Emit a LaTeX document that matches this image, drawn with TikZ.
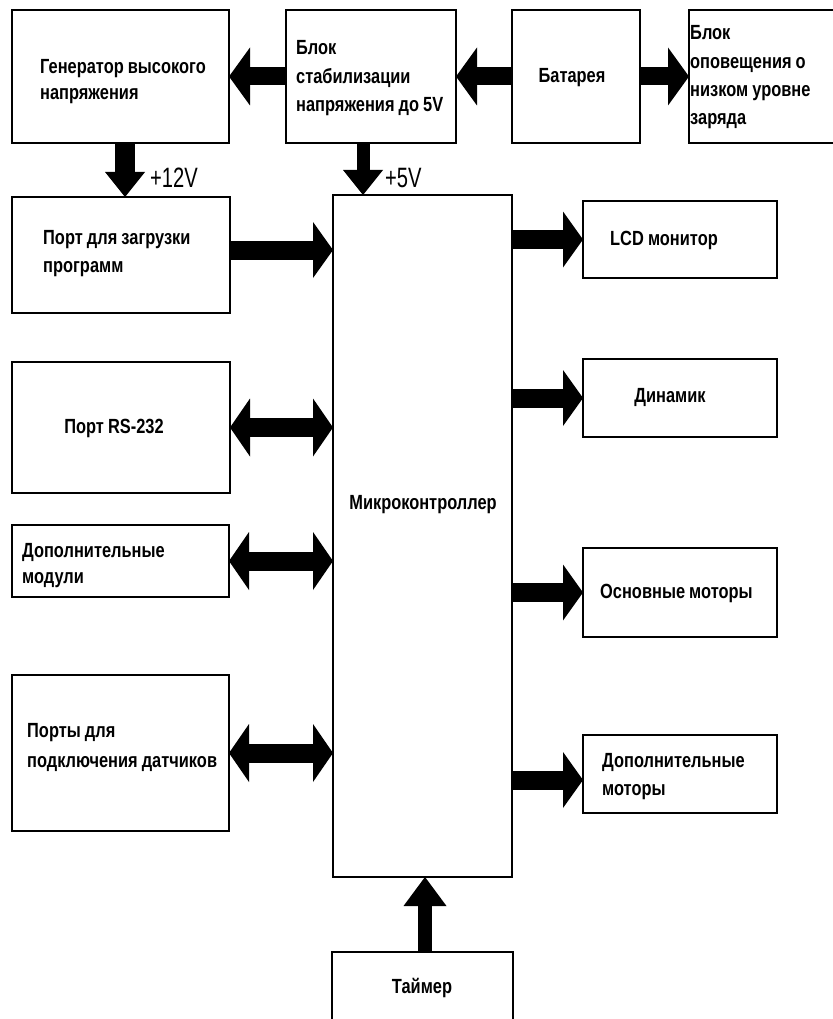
\documentclass[tikz,border=0pt]{standalone}
\usepackage{fontspec}
\setmainfont{Liberation Sans}[FakeStretch=0.8,WordSpace={0.9,0,0}]
\newfontfamily\voltfont{Liberation Sans}[FakeStretch=0.72]
\usetikzlibrary{arrows.meta}
\tikzset{
  box/.style={draw, line width=1.3pt, rectangle, inner sep=0pt, outer sep=0pt},
  txt/.style={font=\bfseries\fontsize{20.5}{28}\selectfont, inner sep=0pt, anchor=base west, align=flush left, text width=215pt},
  ctxt/.style={font=\bfseries\fontsize{20.5}{28}\selectfont, inner sep=0pt, anchor=base},
  volt/.style={font=\voltfont\fontsize{28}{30}\selectfont, inner sep=0pt, anchor=west},
  harrow/.style={line width=18pt, -{Triangle[length=21pt,width=58pt,line width=0pt]}},
  dharrow/.style={line width=19pt, {Triangle[length=20pt,width=58pt,line width=0pt]}-{Triangle[length=20pt,width=58pt,line width=0pt]}},
  varrow/.style={line width=#1, -{Triangle[length=25pt,width=40pt,line width=0pt]}},
  rarrow/.style={line width=19pt, -{Triangle[length=20pt,width=56pt,line width=0pt]}},
}
\begin{document}
\begin{tikzpicture}[x=1pt,y=-1pt]
\useasboundingbox (0,0) rectangle (832,1019);
% boxes
\node[box, minimum width=217pt, minimum height=133pt] (gen) at (120.5,76.5) {};
\node[box, minimum width=170pt, minimum height=133pt] (stab) at (371,76.5) {};
\node[box, minimum width=128pt, minimum height=133pt] (bat) at (576,76.5) {};
\node[box, minimum width=156pt, minimum height=133pt] (alarm) at (767,76.5) {};
\node[box, minimum width=218pt, minimum height=116pt] (port) at (121,255) {};
\node[box, minimum width=218pt, minimum height=131pt] (rs) at (121,427.5) {};
\node[box, minimum width=217pt, minimum height=72pt] (mod) at (120.5,561) {};
\node[box, minimum width=217pt, minimum height=156pt] (sens) at (120.5,753) {};
\node[box, minimum width=179pt, minimum height=682pt] (mc) at (422.5,536) {};
\node[box, minimum width=194pt, minimum height=77pt] (lcd) at (680,239.5) {};
\node[box, minimum width=194pt, minimum height=78pt] (din) at (680,398) {};
\node[box, minimum width=194pt, minimum height=89pt] (mot) at (680,592.5) {};
\node[box, minimum width=194pt, minimum height=78pt] (dmot) at (680,774) {};
\node[box, minimum width=181pt, minimum height=78pt] (timer) at (422.5,991) {};
% texts
\node[txt, font=\bfseries\fontsize{20.5}{26}\selectfont] (tgen) at (40,74) {Генератор высокого\\напряжения};
\node[txt, font=\bfseries\fontsize{20.5}{28.5}\selectfont] (tstab) at (296,55) {Блок\\стабилизации\\напряжения до 5V};
\node[ctxt] (tbat) at (572,83) {Батарея};
\node[txt, font=\bfseries\fontsize{20.5}{28.3}\selectfont] (talarm) at (690,40) {Блок\\оповещения о\\низком уровне\\заряда};
\node[txt] (tport) at (43,244) {Порт для загрузки\\программ};
\node[ctxt] (trs) at (114,433) {Порт RS-232};
\node[txt, font=\bfseries\fontsize{20.5}{26}\selectfont] (tmod) at (22,557) {Дополнительные\\модули};
\node[txt, font=\bfseries\fontsize{20.5}{30}\selectfont] (tsens) at (27,737) {Порты для\\подключения датчиков};
\node[ctxt] (tmc) at (423,509) {Микроконтроллер};
\node[txt] (tlcd) at (610,245) {LCD монитор};
\node[ctxt] (tdin) at (670,402) {Динамик};
\node[txt] (tmot) at (600,598) {Основные моторы};
\node[txt] (tdmot) at (602,767) {Дополнительные\\моторы};
\node[ctxt] (ttimer) at (422,993) {Таймер};
% arrows
\draw[harrow] (stab.west) -- (gen.east);
\draw[harrow] (bat.west) -- (stab.east);
\draw[harrow] (bat.east) -- (alarm.west);
\draw[varrow=20pt] ([xshift=4.5pt]gen.south) -- ([xshift=4.5pt]gen.south |- port.north);
\draw[varrow=13pt] ([xshift=-8pt]stab.south) -- ([xshift=-8pt]stab.south |- mc.north);
\draw[rarrow] ([yshift=5pt]port.east) -- ([yshift=5pt]port.east -| mc.west);
\draw[dharrow] (rs.east) -- (rs.east -| mc.west);
\draw[dharrow] (mod.east) -- (mod.east -| mc.west);
\draw[dharrow] (sens.east) -- (sens.east -| mc.west);
\draw[rarrow] (lcd.west -| mc.east) -- (lcd.west);
\draw[rarrow] (din.west -| mc.east) -- (din.west);
\draw[rarrow] (mot.west -| mc.east) -- (mot.west);
\draw[rarrow] ([yshift=-6pt]dmot.west -| mc.east) -- ([yshift=-6pt]dmot.west);
\draw[line width=14pt, -{Triangle[length=29pt,width=43pt,line width=0pt]}] ([xshift=2.5pt]timer.north) -- ([xshift=2.5pt]timer.north |- mc.south);
% voltage labels
\node[volt] (v12) at (150,178) {+12V};
\node[volt] (v5) at (385,178) {+5V};
\end{tikzpicture}
\end{document}
